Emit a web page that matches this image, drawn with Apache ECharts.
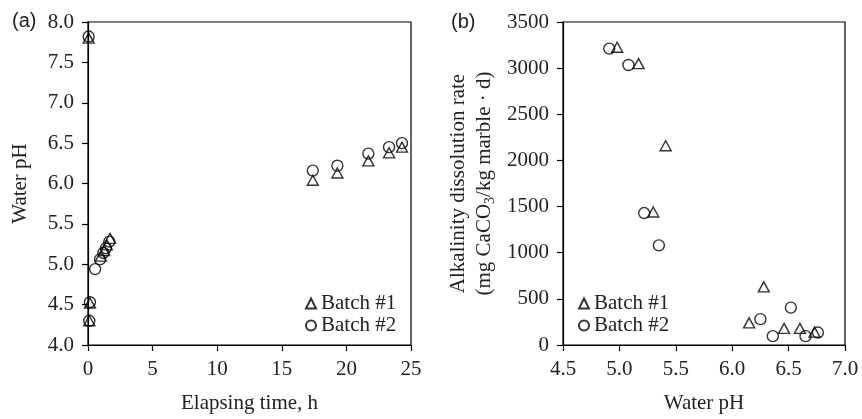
<!DOCTYPE html>
<html>
<head>
<meta charset="utf-8">
<script src="https://cdn.jsdelivr.net/npm/echarts@6/dist/echarts.min.js"></script>
<style>
html,body{margin:0;padding:0;background:#fff;}
#c{width:862px;height:419px;}
</style>
</head>
<body>
<div id="c"></div>
<script>
// Panel (a): water pH vs elapsing time
const timeBatch1 = [0.05, 0.15, 0.1, 1.0, 1.25, 1.45, 1.7, 17.4, 19.3, 21.7, 23.3, 24.3];
const phBatch1   = [7.80, 4.52, 4.30, 5.10, 5.17, 5.24, 5.32, 6.04, 6.13, 6.28, 6.38, 6.45];
const timeBatch2 = [0.05, 0.15, 0.1, 0.55, 0.93, 1.19, 1.39, 1.65, 17.4, 19.3, 21.7, 23.3, 24.3];
const phBatch2   = [7.82, 4.53, 4.30, 4.94, 5.06, 5.14, 5.20, 5.28, 6.16, 6.22, 6.37, 6.45, 6.50];

// Panel (b): alkalinity dissolution rate vs water pH
const phRate1   = [4.98, 5.17, 5.41, 5.30, 6.28, 6.15, 6.46, 6.60, 6.73];
const rateBatch1= [3226, 3049, 2159, 1441, 630, 240, 180, 180, 140];
const phRate2   = [4.91, 5.08, 5.22, 5.35, 6.52, 6.25, 6.36, 6.65, 6.76];
const rateBatch2= [3212, 3034, 1430, 1080, 405, 280, 96, 96, 135];

const yTicksA = [4.0, 4.5, 5.0, 5.5, 6.0, 6.5, 7.0, 7.5, 8.0];
const xTicksA = [0, 5, 10, 15, 20, 25];
const yTicksB = [0, 500, 1000, 1500, 2000, 2500, 3000, 3500];
const xTicksB = [4.5, 5.0, 5.5, 6.0, 6.5, 7.0];

const serif = '"Liberation Serif", "Times New Roman", serif';
const fs = 21;

function zip(a, b) { return a.map((v, i) => [v, b[i]]); }

const tri = {symbol: 'triangle', symbolSize: [11, 10],
  itemStyle: {color: 'rgba(0,0,0,0)', borderColor: '#000', borderWidth: 1.4}};
const cir = {symbol: 'circle', symbolSize: 11,
  itemStyle: {color: 'rgba(0,0,0,0)', borderColor: '#000', borderWidth: 1.4}};

function axisCommon(fmt) {
  return {
    axisLine: {show: true, onZero: false, lineStyle: {color: '#000', width: 1.2}},
    axisTick: {show: true, inside: false, length: 6, lineStyle: {color: '#000', width: 1.2}},
    splitLine: {show: false},
    axisLabel: {color: '#222', fontFamily: serif, fontSize: fs, margin: 14, formatter: fmt},
    nameTextStyle: {color: '#222', fontFamily: serif, fontSize: fs},
  };
}
const f0 = v => String(Math.round(v));
const f1 = v => v.toFixed(1);

const chart = echarts.init(document.getElementById('c'), null, {renderer: 'canvas'});
chart.setOption({
  backgroundColor: '#fff',
  animation: false,
  grid: [
    {left: 88, top: 22, width: 323, height: 327, show: true, borderColor: '#000', borderWidth: 1.2, backgroundColor: 'transparent'},
    {left: 563, top: 22, width: 282, height: 327, show: true, borderColor: '#000', borderWidth: 1.2, backgroundColor: 'transparent'}
  ],
  xAxis: [
    Object.assign(axisCommon(f0), {
      gridIndex: 0, type: 'value', min: xTicksA[0], max: xTicksA[xTicksA.length-1], interval: 5,
      name: 'Elapsing time, h', nameLocation: 'middle', nameGap: 48
    }),
    Object.assign(axisCommon(f1), {
      gridIndex: 1, type: 'value', min: xTicksB[0], max: xTicksB[xTicksB.length-1], interval: 0.5,
      name: 'Water pH', nameLocation: 'middle', nameGap: 48
    })
  ],
  yAxis: [
    Object.assign(axisCommon(f1), {
      gridIndex: 0, type: 'value', min: yTicksA[0], max: yTicksA[yTicksA.length-1], interval: 0.5,
      name: 'Water pH', nameLocation: 'middle', nameGap: 57
    }),
    Object.assign(axisCommon(f0), {
      gridIndex: 1, type: 'value', min: yTicksB[0], max: yTicksB[yTicksB.length-1], interval: 500,
      name: '{n|Alkalinity dissolution rate}\n{n|(mg CaCO}{s|3}{n|/kg marble · d)}',
      nameLocation: 'middle', nameGap: 66,
      nameTextStyle: {color: '#222', fontFamily: serif, fontSize: fs, lineHeight: 26,
        rich: {n: {fontFamily: serif, fontSize: fs, color: '#222', lineHeight: 26},
               s: {fontFamily: serif, fontSize: 14, color: '#222', verticalAlign: 'bottom', padding: [10, 0, 0, 0], lineHeight: 26}}}
    })
  ],
  legend: [
    {left: 300, top: 288, orient: 'vertical', itemWidth: 10, itemHeight: 10, itemGap: 1,
     textStyle: {fontFamily: serif, fontSize: fs, color: '#222'},
     data: [{name: 'Batch #1', icon: 'triangle'}, {name: 'Batch #2', icon: 'circle'}]},
    {left: 573, top: 288, orient: 'vertical', itemWidth: 10, itemHeight: 10, itemGap: 1,
     textStyle: {fontFamily: serif, fontSize: fs, color: '#222'},
     data: [{name: 'Batch #1', icon: 'triangle'}, {name: 'Batch #2', icon: 'circle'}]}
  ],
  graphic: [
    {type: 'text', left: 12, top: 11, style: {text: '(a)', font: '20px "Liberation Sans", Arial, sans-serif', fill: '#222'}},
    {type: 'text', left: 451, top: 12, style: {text: '(b)', font: '20px "Liberation Sans", Arial, sans-serif', fill: '#222'}}
  ],
  series: [
    Object.assign({type: 'scatter', name: 'Batch #1', xAxisIndex: 0, yAxisIndex: 0, data: zip(timeBatch1, phBatch1)}, tri),
    Object.assign({type: 'scatter', name: 'Batch #2', xAxisIndex: 0, yAxisIndex: 0, data: zip(timeBatch2, phBatch2)}, cir),
    Object.assign({type: 'scatter', name: 'Batch #1', xAxisIndex: 1, yAxisIndex: 1, data: zip(phRate1, rateBatch1)}, tri),
    Object.assign({type: 'scatter', name: 'Batch #2', xAxisIndex: 1, yAxisIndex: 1, data: zip(phRate2, rateBatch2)}, cir)
  ]
});
</script>
</body>
</html>
